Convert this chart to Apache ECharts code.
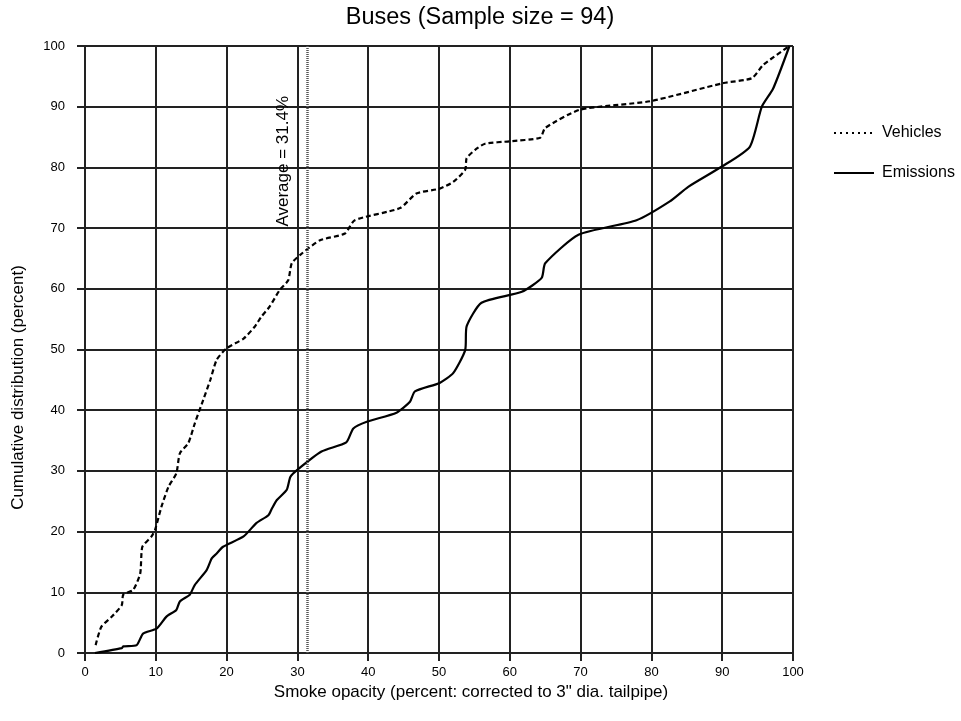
<!DOCTYPE html>
<html>
<head>
<meta charset="utf-8">
<script src="https://cdn.jsdelivr.net/npm/echarts@6/dist/echarts.min.js"></script>
<style>
html,body{margin:0;padding:0;background:#fff;}
#chart{width:961px;height:721px;}
</style>
</head>
<body>
<div id="chart"></div>
<script>
var titleText = 'Buses (Sample size = 94)';
var xName = 'Smoke opacity (percent: corrected to 3" dia. tailpipe)';
var yName = 'Cumulative distribution (percent)';
var seriesNames = ['Vehicles', 'Emissions'];
var averageValue = 31.4;
var averageLabel = 'Average = 31.4%';

var vehX = [1.5, 2.3, 3.8, 5.2, 5.4, 6.8, 7.8, 8.1, 9.4, 9.9, 10.8, 11.8, 12.9, 13.4, 14.6, 15.5, 16.7, 17.7, 18.6, 20.0, 22.4, 24.0, 24.9, 26.1, 27.5, 28.7, 29.2, 30.4, 33.2, 36.7, 38.1, 44.5, 46.8, 50.1, 52.0, 53.7, 53.9, 55.1, 56.5, 60.0, 64.3, 65.0, 69.9, 79.8, 90.2, 94.2, 95.8, 99.5];
var vehY = [1.3, 4.3, 6.0, 7.9, 9.6, 10.4, 13.1, 17.5, 19.2, 20.3, 24.1, 27.4, 29.6, 32.9, 34.6, 37.8, 41.7, 45.0, 48.3, 50.2, 51.8, 53.8, 55.4, 57.1, 59.8, 61.4, 64.2, 65.6, 68.0, 69.1, 71.3, 73.3, 75.7, 76.5, 77.6, 79.6, 81.5, 82.9, 83.9, 84.3, 84.9, 86.5, 89.5, 90.9, 93.9, 94.7, 96.9, 100];

var emiX = [1.4, 5.2, 5.4, 7.3, 8.2, 10.1, 11.5, 12.9, 13.4, 14.8, 15.5, 17.2, 17.9, 18.6, 19.5, 22.4, 24.2, 25.9, 26.4, 27.1, 28.5, 29.0, 29.9, 33.4, 36.9, 37.9, 39.8, 44.0, 45.9, 46.6, 50.1, 52.0, 53.7, 53.9, 56.0, 61.7, 64.5, 65.0, 69.7, 77.9, 82.6, 85.2, 89.9, 93.9, 95.6, 97.2, 99.5];
var emiY = [0, 0.8, 1.1, 1.3, 3.2, 4.0, 6.0, 7.1, 8.5, 9.6, 11.2, 13.7, 15.6, 16.4, 17.5, 19.2, 21.4, 22.7, 23.8, 25.2, 26.9, 29.0, 30.1, 33.2, 34.7, 37.0, 38.1, 39.6, 41.4, 43.1, 44.5, 46.1, 49.9, 53.8, 57.7, 59.5, 61.8, 64.2, 68.9, 71.3, 74.4, 76.8, 80.1, 83.4, 90.0, 93.0, 100];

function pairs(xs, ys) {
  var out = [];
  for (var i = 0; i < xs.length; i++) out.push([xs[i], ys[i]]);
  return out;
}

var FONT = '"Liberation Sans", Arial, sans-serif';
var gridColor = '#222';

var chart = echarts.init(document.getElementById('chart'), null, {renderer: 'canvas'});
chart.setOption({
  animation: false,
  backgroundColor: '#fff',
  textStyle: {fontFamily: FONT, color: '#000'},
  title: {
    text: titleText,
    left: 475,
    textAlign: 'center',
    top: 1,
    textStyle: {fontFamily: FONT, fontSize: 23.5, fontWeight: 'normal', color: '#000'}
  },
  legend: {
    orient: 'vertical',
    left: 828,
    top: 120,
    itemWidth: 40,
    itemHeight: 16,
    itemGap: 24,
    textStyle: {fontFamily: FONT, fontSize: 16, color: '#000', padding: [0, 0, 0, 3]},
    data: [
      {name: seriesNames[0], itemStyle: {opacity: 0}, lineStyle: {type: [2, 4], width: 2, color: '#000'}},
      {name: seriesNames[1], itemStyle: {opacity: 0}, lineStyle: {type: 'solid', width: 2, color: '#000'}}
    ]
  },
  grid: {left: 85, right: 168, top: 46, bottom: 68, containLabel: false},
  xAxis: {
    type: 'value', min: 0, max: 100, interval: 10,
    name: xName, nameLocation: 'middle', nameGap: 27,
    nameTextStyle: {fontFamily: FONT, fontSize: 17, color: '#000', padding: [0, 0, 0, 64]},
    axisLine: {show: true, lineStyle: {color: gridColor, width: 2}},
    axisTick: {show: true, length: 8, lineStyle: {color: gridColor, width: 2}},
    axisLabel: {fontFamily: FONT, fontSize: 13, color: '#000', margin: 13},
    splitLine: {show: true, lineStyle: {color: gridColor, width: 2}}
  },
  yAxis: {
    type: 'value', min: 0, max: 100, interval: 10,
    name: yName, nameLocation: 'middle', nameGap: 58,
    nameTextStyle: {fontFamily: FONT, fontSize: 17, color: '#000', padding: [0, 76, 0, 0]},
    axisLine: {show: true, lineStyle: {color: gridColor, width: 2}},
    axisTick: {show: true, length: 8, lineStyle: {color: gridColor, width: 2}},
    axisLabel: {fontFamily: FONT, fontSize: 13, color: '#000', margin: 20},
    splitLine: {show: true, lineStyle: {color: gridColor, width: 2}}
  },
  series: [
    {
      name: seriesNames[0], type: 'line', data: pairs(vehX, vehY),
      symbol: 'none', showSymbol: false, smooth: 0.2,
      lineStyle: {color: '#000', width: 2.2, type: [5, 3]},
      itemStyle: {color: '#000'},
      markLine: {
        silent: true, symbol: ['none', 'none'],
        lineStyle: {color: '#555', width: 2.5, type: [1, 1]},
        label: {
          show: true, position: 'insideEndTop', formatter: averageLabel,
          fontFamily: FONT, fontSize: 17, color: '#000', distance: [50, 15]
        },
        data: [{xAxis: averageValue}]
      }
    },
    {
      name: seriesNames[1], type: 'line', data: pairs(emiX, emiY),
      symbol: 'none', showSymbol: false, smooth: 0.2,
      lineStyle: {color: '#000', width: 2.2, type: 'solid'},
      itemStyle: {color: '#000'}
    }
  ]
});
</script>
</body>
</html>
